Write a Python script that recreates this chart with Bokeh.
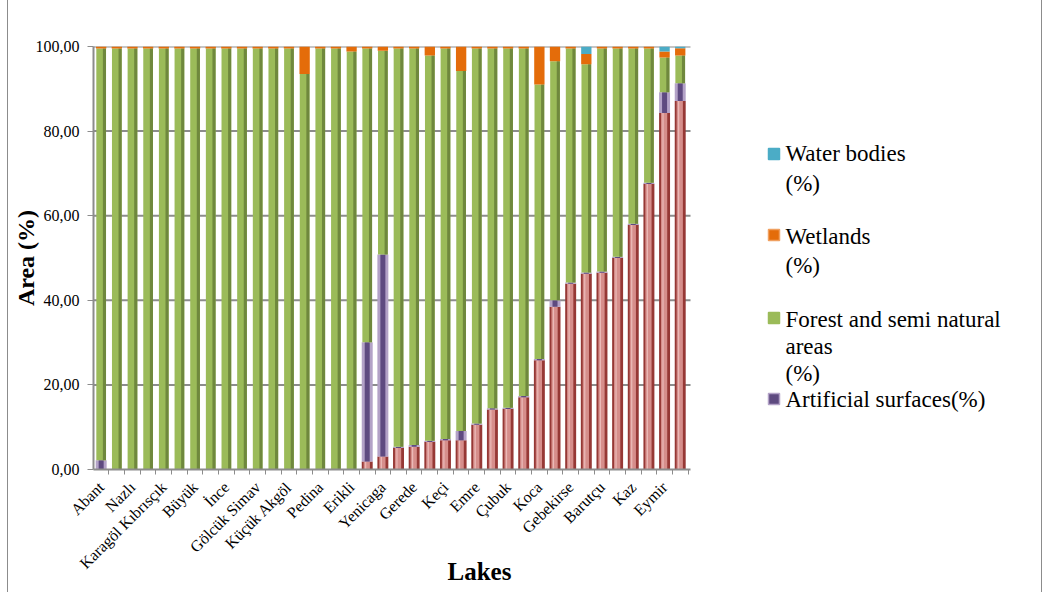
import math
from bokeh.plotting import figure
from bokeh.models import ColumnDataSource, Range1d, FixedTicker, Label, BoxAnnotation, Title
from bokeh.transform import dodge
from bokeh.embed import file_html
from bokeh.resources import INLINE

# ---------------- data ----------------
tick_labels = ["Abant", "Nazlı", "Karagöl Kıbrısçık", "Büyük", "İnce", "Gölcük Simav",
               "Küçük Akgöl", "Pedina", "Erikli", "Yenicaga", "Gerede", "Keçi", "Emre",
               "Çubuk", "Koca", "Gebekirse", "Barutçu", "Kaz", "Eymir"]

agricultural = [0, 0, 0, 0, 0, 0, 0, 0, 0, 0, 0, 0, 0, 0, 0, 0, 0,
                1.9, 3.1, 5.1, 5.4, 6.5, 6.9, 6.9, 10.6, 14.2, 14.3, 17.1, 25.8,
                38.5, 43.9, 46.3, 46.5, 50.0, 57.8, 67.5, 84.3, 87.1]
artificial = [2.2, 0, 0, 0, 0, 0, 0, 0, 0, 0, 0, 0, 0, 0, 0, 0, 0,
              28.2, 47.7, 0.3, 0.4, 0.3, 0.3, 2.2, 0.3, 0.3, 0.3, 0.3, 0.3,
              1.5, 0.3, 0.3, 0.3, 0.3, 0.3, 0.3, 4.9, 4.2]
forest = [97.3, 99.5, 99.5, 99.5, 99.5, 99.5, 99.5, 99.5, 99.5, 99.5, 99.5, 99.5, 99.5,
          93.5, 99.5, 99.5, 98.8,
          69.4, 48.2, 94.1, 93.7, 91.1, 92.3, 85.1, 88.6, 85.0, 84.9, 82.1, 64.9,
          56.5, 55.3, 49.2, 52.7, 49.2, 41.4, 31.7, 8.2, 6.6]
wetlands = [0.5, 0.5, 0.5, 0.5, 0.5, 0.5, 0.5, 0.5, 0.5, 0.5, 0.5, 0.5, 0.5,
            6.5, 0.5, 0.5, 1.2,
            0.5, 1.0, 0.5, 0.5, 2.1, 0.5, 5.8, 0.5, 0.5, 0.5, 0.5, 9.0,
            3.5, 0.5, 2.4, 0.5, 0.5, 0.5, 0.5, 1.4, 1.7]
water = [0] * 31 + [1.8, 0, 0, 0, 0, 1.2, 0.4]

y_ticks = [0, 20, 40, 60, 80, 100]
y_tick_labels = ["0,00", "20,00", "40,00", "60,00", "80,00", "100,00"]

legend_labels = [["Water bodies", "(%)"], ["Wetlands", "(%)"],
                 ["Forest and semi natural", "areas", "(%)"], ["Artificial surfaces(%)"]]

# ---------------- layout (page pixels) ----------------
FIG_X = 8                 # page x of the figure's left edge (after CSS margin + border)
W, H = 1035, 592
FRAME_L, FRAME_R, FRAME_T, FRAME_B = 93, 1036, 46, 469
AXIS_END = 690            # where the bar area / x axis ends
PX_PER_CAT = 15.65
X0 = -0.49
frame_w = FRAME_R - FRAME_L
frame_h = FRAME_B - FRAME_T
SERIF = "Liberation Serif"


def xd(px):
    return X0 + (px - FRAME_L) / PX_PER_CAT


def yd(py):
    return (FRAME_B - py) / frame_h * 100.0


n = len(forest)
xs = list(range(n))
series = [agricultural, artificial, forest, wetlands, water]
names = ["agr", "art", "for", "wet", "wat"]
data = {"x": xs}
cum = [0.0] * n
for nm, s in zip(names, series):
    data[nm + "_b"] = list(cum)
    cum = [c + v for c, v in zip(cum, s)]
    data[nm + "_t"] = list(cum)
src = ColumnDataSource(data)

p = figure(width=W, height=H, output_backend="svg", toolbar_location=None,
           x_range=Range1d(X0, xd(FRAME_R)), y_range=Range1d(0, 100),
           min_border_left=FRAME_L - FIG_X, min_border_top=FRAME_T,
           min_border_right=W - (FRAME_R - FIG_X), min_border_bottom=H - FRAME_B)
p.styles = {"margin-left": "7px", "border-left": "1px solid #8C8C8C",
            "border-right": "1px solid #8C8C8C"}
p.outline_line_color = None
p.background_fill_color = "white"
p.border_fill_color = "white"
p.title.visible = False

GRAY = "#8C8C8C"
# horizontal gridlines limited to the bar area
p.segment(x0=X0, x1=xd(AXIS_END), y0=y_ticks[1:], y1=y_ticks[1:],
          line_color=GRAY, line_width=2)


def seg(nm, color, width, off=0.0):
    p.vbar(x=dodge("x", off), bottom=nm + "_b", top=nm + "_t", width=width,
           fill_color=color, line_color=None, source=src)


# agricultural (red 3D look)
seg("agr", "#963835", 0.70)
seg("agr", "#D68E8B", 0.40, -0.03)
seg("agr", "#EBB9B7", 0.08, -0.10)
# artificial (purple)
seg("art", "#B3A2C7", 0.70)
seg("art", "#5E4A80", 0.32)
# forest (green)
seg("for", "#9BBB59", 0.62)
seg("for", "#6F883D", 0.20, 0.21)
# wetlands (orange)
seg("wet", "#E46C0A", 0.66)
# water (blue)
seg("wat", "#4BACC6", 0.66)

# y axis
p.yaxis.ticker = FixedTicker(ticks=y_ticks)
p.yaxis.major_label_overrides = dict(zip(y_ticks, y_tick_labels))
p.yaxis.major_label_text_font = SERIF
p.yaxis.major_label_text_font_size = "16px"
p.yaxis.major_label_text_color = "#000000"
p.yaxis.axis_line_color = GRAY
p.yaxis.axis_line_width = 2
p.yaxis.major_tick_line_color = GRAY
p.yaxis.major_tick_in = 0
p.yaxis.major_tick_out = 6
p.yaxis.minor_tick_line_color = None
p.yaxis.major_label_standoff = 8
p.yaxis.axis_label = "Area (%)"
p.yaxis.axis_label_text_font = SERIF
p.yaxis.axis_label_text_font_style = "bold"
p.yaxis.axis_label_text_font_size = "24px"
p.yaxis.axis_label_text_color = "#000000"
p.yaxis.axis_label_standoff = -6

# x axis
label_ticks = list(range(0, n, 2))[:len(tick_labels)]
p.xaxis.bounds = (X0, xd(AXIS_END))
p.xaxis.ticker = FixedTicker(ticks=label_ticks, minor_ticks=[i - 0.5 for i in range(n + 1)])
p.xaxis.major_label_overrides = {t: lab for t, lab in zip(label_ticks, tick_labels)}
p.xaxis.major_label_orientation = math.pi / 4
p.xaxis.major_label_text_font = SERIF
p.xaxis.major_label_text_font_size = "16px"
p.xaxis.major_label_text_color = "#000000"
p.xaxis.major_tick_line_color = None
p.xaxis.minor_tick_line_color = GRAY
p.xaxis.minor_tick_in = 0
p.xaxis.minor_tick_out = 5
p.xaxis.axis_line_color = GRAY
p.xaxis.axis_line_width = 2
p.xaxis.major_label_standoff = 9

p.xgrid.grid_line_color = None
p.ygrid.grid_line_color = None

# x axis title: top-aligned in its panel, pulled up with a negative standoff
p.add_layout(Title(text="Lakes", align="left", vertical_align="top",
                   offset=480 - 33 - FRAME_L,
                   text_font=SERIF, text_font_style="bold",
                   text_font_size="25px", text_color="#000000", standoff=-46), "below")

# legend (manual, inside the wide frame)
leg_colors = [("#4BACC6", "#4BACC6"), ("#E46C0A", "#F0A060"),
              ("#9BBB59", "#9BBB59"), ("#5E4A80", "#B3A2C7")]
sw_top = [148, 229, 312, 393]
line_y = [[153, 183], [236, 265], [319, 346, 373], [399]]
for (fc, lc), st, lys, labs in zip(leg_colors, sw_top, line_y, legend_labels):
    p.add_layout(BoxAnnotation(left=xd(768), right=xd(779), top=yd(st), bottom=yd(st + 11),
                               fill_color=fc, fill_alpha=1.0, line_color=lc,
                               line_width=1.5, line_alpha=1.0))
    for ly, lab in zip(lys, labs):
        p.add_layout(Label(x=xd(785), y=yd(ly), text=lab, text_align="left",
                           text_baseline="middle", text_font=SERIF,
                           text_font_size="23px", text_color="#000000"))

open("out.html", "w").write(file_html(p, INLINE))
